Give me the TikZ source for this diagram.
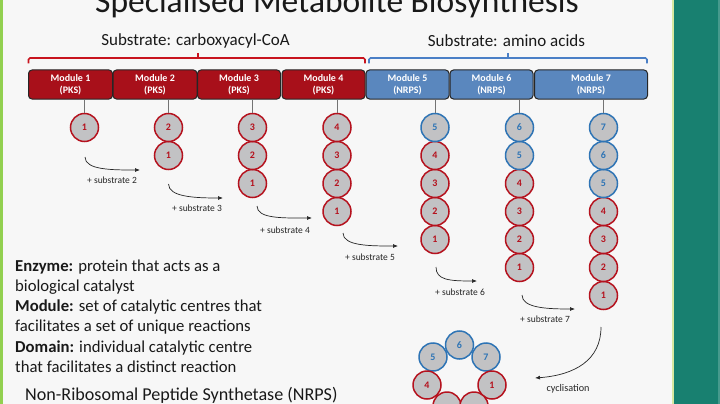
\documentclass[tikz,border=0pt]{standalone}
\usepackage{fontspec}
\setmainfont{Carlito}
\usetikzlibrary{arrows.meta}
\definecolor{bgc}{HTML}{F7F7F7}
\definecolor{modred}{HTML}{A8101A}
\definecolor{modblue}{HTML}{5A87BE}
\definecolor{ringred}{HTML}{B5121E}
\definecolor{ringblue}{HTML}{2E74B5}
\definecolor{cfill}{HTML}{C2C2C4}
\definecolor{brred}{HTML}{C8141E}
\definecolor{brblue}{HTML}{4A7FC6}
\definecolor{teal}{HTML}{188070}
\definecolor{lime}{HTML}{92D050}
\definecolor{paleg}{HTML}{D8E8A0}
\tikzset{
  modbox/.style={draw=black!85, line width=1pt, rounded corners=3.5pt, minimum height=29pt, inner sep=0pt, text=white, font=\fontsize{10}{12}\selectfont\bfseries, align=center},
  modr/.style={modbox, fill=modred},
  modb/.style={modbox, fill=modblue},
  ballr/.style={circle, draw=ringred, fill=cfill, line width=1.5pt, minimum size=28pt, inner sep=0pt, text=ringred, font=\fontsize{10}{10}\selectfont\bfseries},
  ballb/.style={circle, draw=ringblue, fill=cfill, line width=1.5pt, minimum size=28pt, inner sep=0pt, text=ringblue, font=\fontsize{10}{10}\selectfont\bfseries},
  stem/.style={draw=black!55, line width=0.7pt},
  subarrow/.style={draw=black!85, line width=0.7pt, -{Latex[length=5pt,width=4pt]}},
  sublabel/.style={font=\fontsize{9.5}{11}\selectfont, text=black!85, inner sep=1pt},
  defn/.style={font=\fontsize{16.7}{20}\selectfont, anchor=base west, inner sep=0pt, text=black!90},
  bracketr/.style={draw=brred, line width=1.6pt, rounded corners=1.5pt},
  bracketb/.style={draw=brblue, line width=1.6pt, rounded corners=1.5pt},
}
\begin{document}
\begin{tikzpicture}[x=1pt,y=-1pt]
\useasboundingbox (0,0) rectangle (720,404);
\clip (0,0) rectangle (720,404);
% background
\fill[bgc] (0,0) rectangle (720,404);
\fill[lime] (0,0) rectangle (2.5,404);
\fill[paleg] (671.5,0) rectangle (673.5,404);
\fill[teal] (673.5,0) rectangle (718,404);
\fill[teal!80!white] (718,0) rectangle (720,404);
% title
\node[anchor=base, font=\fontsize{33.5}{36}\selectfont, text=black!90, inner sep=0pt] (title) at (337,13) {Specialised Metabolite Biosynthesis};
% substrate labels
\node[font=\fontsize{17}{19}\selectfont, text=black!90] (subl) at (195.5,41) {Substrate: carboxyacyl-CoA};
\node[font=\fontsize{17}{19}\selectfont, text=black!90] (subr) at (506.5,41) {Substrate: amino acids};
% brackets
\draw[bracketr] (28.5,63.5) -- (28.5,58) -- (365,58) -- (365,63.5);
\draw[bracketr] (198,58) -- (198,53);
\draw[bracketb] (369,63.5) -- (369,58) -- (647,58) -- (647,63.5);
\draw[bracketb] (508,58) -- (508,53);
% modules
\node[modr, minimum width=84pt] (m1) at (70.5,84.5) {Module 1\\(PKS)};
\node[modr, minimum width=84pt] (m2) at (155,84.5) {Module 2\\(PKS)};
\node[modr, minimum width=83pt] (m3) at (239,84.5) {Module 3\\(PKS)};
\node[modr, minimum width=83pt] (m4) at (323.5,84.5) {Module 4\\(PKS)};
\node[modb, minimum width=83pt] (m5) at (407.5,84.5) {Module 5\\(NRPS)};
\node[modb, minimum width=83pt] (m6) at (491.5,84.5) {Module 6\\(NRPS)};
\node[modb, minimum width=113pt] (m7) at (591,84.5) {Module 7\\(NRPS)};
% columns of domains
\foreach \col/\x in {1/84.5,2/168.5,3/252.5,4/337,5/435,6/519.5,7/603.5}{
  \foreach \n in {1,...,\col}{
    \pgfmathsetmacro{\yy}{127.5+(\col-\n)*28}
    \ifnum\n<5
      \node[ballr] (c\col-\n) at (\x,\yy) {\n};
    \else
      \node[ballb] (c\col-\n) at (\x,\yy) {\n};
    \fi
  }
}
% stems
\foreach \col in {1,...,7}{
  \draw[stem] (c\col-\col.north) -- (c\col-\col.north |- m\col.south);
}
% substrate arrows
\coordinate (s2a) at (85,157);   \coordinate (s2b) at (140,170);
\coordinate (s3a) at (168.5,184); \coordinate (s3b) at (223,198);
\coordinate (s4a) at (257,206);  \coordinate (s4b) at (312,218);
\coordinate (s5a) at (343,233);  \coordinate (s5b) at (398,246);
\coordinate (s6a) at (436,267);  \coordinate (s6b) at (477,281);
\coordinate (s7a) at (522,295);  \coordinate (s7b) at (575,309);
\foreach \k in {2,...,7}{
  \draw[subarrow] (s\k a) .. controls +(0,13) and +(-28,0) .. (s\k b);
}
\node[sublabel] (l2) at (112,180) {+ substrate 2};
\node[sublabel] (l3) at (197,208) {+ substrate 3};
\node[sublabel] (l4) at (285,230) {+ substrate 4};
\node[sublabel] (l5) at (370,257) {+ substrate 5};
\node[sublabel] (l6) at (460,292) {+ substrate 6};
\node[sublabel] (l7) at (545,319) {+ substrate 7};
% cyclisation
\coordinate (cyA) at (601,327);
\coordinate (cyB) at (535,378);
\draw[subarrow] (cyA) .. controls (601,360) and (575,375) .. (cyB);
\node[sublabel, font=\fontsize{10.2}{12}\selectfont] (cyl) at (568,389) {cyclisation};
% ring
\node[ballb] (r6) at (459.5,345) {6};
\node[ballb] (r5) at (433,357) {5};
\node[ballb] (r7) at (486,357) {7};
\node[ballr] (r4) at (427,385) {4};
\node[ballr] (r1) at (492,385) {1};
\node[ballr] (r3) at (447,406) {};
\node[ballr] (r2) at (474,406) {};
% definitions
\node[defn] (d1) at (15,271) {\textbf{Enzyme:} protein that acts as a};
\node[defn] (d2) at (15,291) {biological catalyst};
\node[defn] (d3) at (15,311) {\textbf{Module:} set of catalytic centres that};
\node[defn] (d4) at (15,331) {facilitates a set of unique reactions};
\node[defn] (d5) at (15,352) {\textbf{Domain:} individual catalytic centre};
\node[defn] (d6) at (15,372) {that facilitates a distinct reaction};
\node[anchor=west, font=\fontsize{18.1}{20}\selectfont, text=black!90, inner sep=0pt] (nrps) at (25,395) {Non-Ribosomal Peptide Synthetase (NRPS)};
\end{tikzpicture}
\end{document}
